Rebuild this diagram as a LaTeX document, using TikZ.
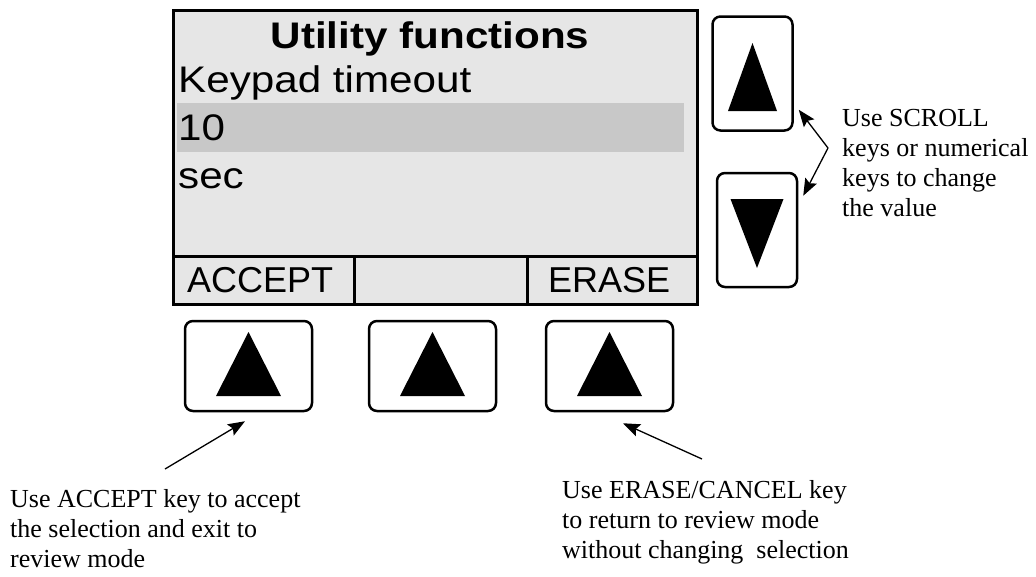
\documentclass[tikz,border=0pt]{standalone}
\usepackage{fontspec}
\setmainfont{Liberation Serif}
\newfontfamily\lcdfont{Liberation Sans}
\newfontfamily\lcdwide[FakeStretch=1.14]{Liberation Sans}
\usepackage{tikz}
\usetikzlibrary{positioning, arrows.meta, calc}
\definecolor{lcdgray}{RGB}{230,230,230}
\definecolor{selgray}{RGB}{200,200,200}
\tikzset{
	key/.style={draw, line width=2.5pt, rounded corners=8pt, fill=white, minimum width=127pt, minimum height=90pt, inner sep=0pt}, % soft key under the screen
	scrollkey/.style={key, minimum width=80pt, minimum height=114pt}, % up/down keys
	lcdline/.style={anchor=base west, inner sep=0pt, font=\lcdwide\fontsize{37}{40}\selectfont},
	softlabel/.style={anchor=base west, inner sep=0pt, font=\lcdfont\fontsize{36}{40}\selectfont},
	note/.style={anchor=north west, inner sep=0pt, align=left, font=\fontsize{26}{30}\selectfont},
	pointer/.style={-{Stealth[length=17pt,width=13pt,inset=3pt]}, line width=1.3pt}, % filled arrow heads
}

\begin{document}
\begin{tikzpicture}[x=1pt, y=-1pt]
	\useasboundingbox (0,0) rectangle (1036,576);
	% display
	\node[draw, line width=3pt, fill=lcdgray, minimum width=524pt, minimum height=294pt, inner sep=0pt] (screen) at (435,157) {};
	\node[fill=selgray, minimum width=507pt, minimum height=49pt, inner sep=0pt] (sel) at (430.5,127.5) {};
	\draw[line width=3pt] (173,256) -- (697,256)
		(354,256) -- (354,304)
		(527,256) -- (527,304);
	\node[font=\lcdwide\bfseries\fontsize{37}{40}\selectfont, anchor=base, inner sep=0pt] (title) at (430,48) {Utility functions};
	\node[lcdline] (param) at (178,92) {Keypad timeout};
	\node[lcdline] (value) at (178,140) {10};
	\node[lcdline] (unit) at (178,188) {sec};
	\node[softlabel] (accept) at (187,292) {ACCEPT};
	\node[softlabel] (erase) at (548,292) {ERASE};
	% soft keys
	\foreach \n/\x in {1/248.5, 2/432.5, 3/609.5} {
		\node[key] (key\n) at (\x,366) {};
		\fill (key\n.center) ++(0,-34) -- ++(32.5,64) -- ++(-65,0) -- cycle;
	}
	% scroll keys
	\node[scrollkey] (up) at (752.5,73.5) {};
	\fill (up.center) ++(0,-30.5) -- ++(24.5,68) -- ++(-49,0) -- cycle;
	\node[scrollkey] (down) at (757,230) {};
	\fill (down.center) ++(0,38) -- ++(26.5,-69) -- ++(-53,0) -- cycle;
	% notes
	\node[note] (scrollnote) at (842,109) {Use SCROLL\\keys or numerical\\keys to change\\the value};
	\node[note] (acceptnote) at (10,489) {Use ACCEPT key to accept\\the selection and exit to\\review mode};
	\node[note] (erasenote) at (562,480) {Use ERASE/CANCEL key\\to return to review mode\\without changing~ selection};
	\coordinate (fork) at (828,148);
	\coordinate (accepttail) at (165,469);
	\coordinate (erasetail) at (702,459);
	\draw[pointer] (fork) -- ($(up.south east)+(5,-22)$);
	\draw[pointer] (fork) -- ($(down.north east)+(5,24)$);
	\draw[pointer] (accepttail) -- ($(key1.south)+(-3.5,9)$);
	\draw[pointer] (erasetail) -- ($(key3.south)+(13.5,11)$);
\end{tikzpicture}
\end{document}
